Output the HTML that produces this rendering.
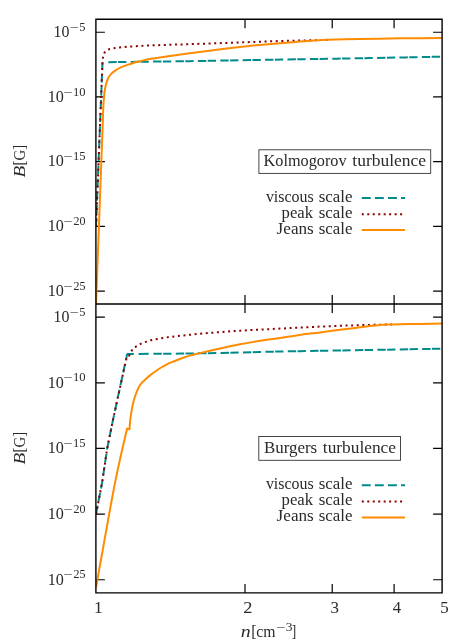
<!DOCTYPE html>
<html lang="en"><head><meta charset="utf-8"><title>B[G] vs n[cm^-3]: Kolmogorov and Burgers turbulence</title>
<style>html,body{margin:0;padding:0;background:#fff}body{width:471px;height:641px;overflow:hidden;font-family:"Liberation Serif",serif}</style></head>
<body>
<svg width="471" height="641" viewBox="0 0 471 641" style="display:block;will-change:transform;font-family:'Liberation Serif',serif">
<rect width="471" height="641" fill="#fff"/>
<defs><clipPath id="c1"><rect x="95.9" y="19.3" width="346.2" height="284.7"/></clipPath>
<clipPath id="c2"><rect x="95.9" y="304.0" width="346.2" height="288.9"/></clipPath></defs>
<g stroke="#000" stroke-width="1.2" fill="none">
<path d="M95.9,32.24h9M442.1,32.24h-9"/>
<path d="M95.9,96.95h9M442.1,96.95h-9"/>
<path d="M95.9,161.65h9M442.1,161.65h-9"/>
<path d="M95.9,226.35h9M442.1,226.35h-9"/>
<path d="M95.9,291.06h9M442.1,291.06h-9"/>
<path d="M95.9,317.13h9M442.1,317.13h-9"/>
<path d="M95.9,382.79h9M442.1,382.79h-9"/>
<path d="M95.9,448.45h9M442.1,448.45h-9"/>
<path d="M95.9,514.11h9M442.1,514.11h-9"/>
<path d="M95.9,579.77h9M442.1,579.77h-9"/>
<path d="M245,19.3v9M245,295v18M245,592.9v-9"/>
<path d="M332.22,19.3v9M332.22,295v18M332.22,592.9v-9"/>
<path d="M394.1,19.3v9M394.1,295v18M394.1,592.9v-9"/>
</g>
<g clip-path="url(#c1)" fill="none" stroke-width="2" stroke-linejoin="round"><g transform="translate(0,0.35)">
<path d="M96,226.4L102.5,61.9" stroke="#008b8b" stroke-dasharray="8.75 4.37"/>
<path d="M108.3,61.85C118.87,61.69 129.43,61.54 140,61.4C156.67,61.18 173.33,61.04 190,60.8C206.67,60.56 223.33,60.19 240,59.9C260,59.55 280,59.24 300,58.9C323.33,58.51 346.67,58.12 370,57.7C394.03,57.26 418.07,56.79 442.1,56.3" stroke="#008b8b" stroke-dasharray="8.4 1.4 8.3 4.3"/>
<path d="M96,226.4L102.45,63C102.53,61.64 102.62,60.31 102.7,59.5C102.87,57.88 103.03,56.76 103.2,56C103.47,54.78 103.73,53.99 104,53.4C104.43,52.44 104.87,51.77 105.3,51.3C105.93,50.61 106.57,50.14 107.2,49.8C108.13,49.3 109.07,48.94 110,48.7C111.83,48.23 113.67,47.97 115.5,47.7C116.8,47.51 118.1,47.35 119.4,47.2C121.23,46.98 123.07,46.77 124.9,46.6C126.6,46.45 128.3,46.31 130,46.2C131.7,46.09 133.4,46 135.1,45.9C139.27,45.66 143.43,45.38 147.6,45.2C161.73,44.58 175.87,44.27 190,43.8C206.67,43.24 223.33,42.68 240,42.1C253.33,41.64 266.67,41.07 280,40.7C290.67,40.4 301.33,40.21 312,39.95C315.33,39.87 318.67,39.8 322,39.7C324.67,39.62 327.33,39.51 330,39.4" stroke="#8b0000" stroke-dasharray="2 3.6"/>
<path d="M96,304L102.7,124.9C102.83,119.85 102.97,115.06 103.1,111.8C103.33,106.1 103.57,101.55 103.8,98.7C104.13,94.62 104.47,91.96 104.8,89.9C105.27,87.01 105.73,85.04 106.2,83.4C106.93,80.83 107.67,78.77 108.4,77.4C109.47,75.41 110.53,74.05 111.6,73C113.07,71.55 114.53,70.61 116,69.7C117.83,68.56 119.67,67.62 121.5,66.8C123.5,65.91 125.5,65.2 127.5,64.5C129.67,63.74 131.83,63.01 134,62.4C136.57,61.68 139.13,61.12 141.7,60.5C143.8,59.99 145.9,59.41 148,59C155.33,57.57 162.67,56.66 170,55.6C176.67,54.64 183.33,53.79 190,52.9C198.33,51.79 206.67,50.65 215,49.6C223.33,48.55 231.67,47.51 240,46.6C246.67,45.88 253.33,45.21 260,44.6C266.67,43.99 273.33,43.47 280,42.9C286.67,42.33 293.33,41.73 300,41.2C304,40.88 308,40.57 312,40.3C315.33,40.08 318.67,39.85 322,39.7C326.33,39.51 330.67,39.38 335,39.25C343.33,39 351.67,38.76 360,38.6C373.33,38.34 386.67,38.16 400,38C414.03,37.84 428.07,37.69 442.1,37.6" stroke="#ff8c00"/>
</g></g>
<g clip-path="url(#c2)" fill="none" stroke-width="2" stroke-linejoin="round"><g transform="translate(0,0)">
<path d="M96,514.2L102.1,482.6L107.2,448.4L112.75,421.1L117.7,398L126.7,356.2L127,354" stroke="#008b8b" stroke-dasharray="8.75 4.37"/>
<path d="M126.9,353.95L153.4,353.85" stroke="#008b8b" stroke-dasharray="6.9 4.8 10.1 100"/>
<path d="M153.4,353.85C155.6,353.83 157.8,353.82 160,353.8C173.33,353.68 186.67,353.51 200,353.3C213.33,353.09 226.67,352.8 240,352.5C253.33,352.2 266.67,351.77 280,351.5C293.33,351.23 306.67,351.03 320,350.8C360.7,350.09 401.4,349.39 442.1,348.7" stroke="#008b8b" stroke-dasharray="8.4 1.4 8.3 4.3"/>
<path d="M96,514.2L102.1,482.6L107.2,448.4L112.75,421.1L117.7,398L126.9,356.5L127.4,355.9L129.3,355.5C129.6,354.63 129.9,353.82 130.2,353.2C130.67,352.23 131.13,351.41 131.6,350.8C132.77,349.27 133.93,348.21 135.1,347.3C136.93,345.87 138.77,344.77 140.6,343.9C142.6,342.95 144.6,342.27 146.6,341.6C148.37,341 150.13,340.43 151.9,340C153.73,339.56 155.57,339.24 157.4,338.9C159.33,338.54 161.27,338.2 163.2,337.9C165.33,337.57 167.47,337.27 169.6,337C179.73,335.74 189.87,334.71 200,333.8C213.33,332.6 226.67,331.53 240,330.7C253.33,329.87 266.67,329.28 280,328.6C293.33,327.92 306.67,327.19 320,326.6C326.67,326.31 333.33,326.03 340,325.8C351.67,325.41 363.33,325.05 375,324.8C378.67,324.72 382.33,324.69 386,324.6C388,324.55 390,324.48 392,324.4" stroke="#8b0000" stroke-dasharray="2 3.6"/>
<path d="M96,587.5C99.43,568.03 102.87,548.88 106.3,530C109.07,514.79 111.83,498.94 114.6,485C116.63,474.75 118.67,465.22 120.7,456.1C121.97,450.42 123.23,445.27 124.5,439.8C125.37,436.06 126.23,432.29 127.1,428.5L129.4,429.4C129.47,428.92 129.53,428.37 129.6,427.7C129.77,426.03 129.93,422.7 130.1,421.1C130.4,418.22 130.7,416.57 131,414.6C131.37,412.19 131.73,409.93 132.1,408C132.57,405.54 133.03,403.29 133.5,401.5C134.07,399.33 134.63,397.67 135.2,396C135.87,394.03 136.53,392.14 137.2,390.6C138.1,388.52 139,386.49 139.9,385.2C141.7,382.62 143.5,381.21 145.3,379.5C147.07,377.82 148.83,376.31 150.6,374.9C152.37,373.49 154.13,372.23 155.9,371C157.67,369.77 159.43,368.56 161.2,367.5C162.97,366.44 164.73,365.48 166.5,364.6C168.27,363.72 170.03,362.96 171.8,362.2C173.6,361.43 175.4,360.71 177.2,360C178.97,359.31 180.73,358.61 182.5,358C185,357.13 187.5,356.31 190,355.6C193.33,354.66 196.67,353.9 200,353.1C206.67,351.5 213.33,349.96 220,348.5C226.67,347.04 233.33,345.57 240,344.3C246.67,343.03 253.33,341.86 260,340.8C266.67,339.74 273.33,338.88 280,337.9C286.67,336.92 293.33,335.81 300,334.9C306.67,333.99 313.33,333.25 320,332.4C326.67,331.55 333.33,330.65 340,329.8C346.67,328.95 353.33,328.09 360,327.3C365,326.71 370,326.1 375,325.6C378.67,325.23 382.33,324.76 386,324.6C390.67,324.39 395.33,324.29 400,324.2C406.67,324.07 413.33,324 420,323.9C427.37,323.79 434.73,323.69 442.1,323.6" stroke="#ff8c00"/>
</g></g>
<path d="M95.9,19.3H442.1V592.9H95.9ZM95.9,304.0H442.1" stroke="#000" stroke-width="1.4" fill="none" stroke-linejoin="miter"/>
<rect x="258.9" y="149.8" width="171.8" height="23.6" fill="#fff" stroke="#333" stroke-width="0.9"/>
<rect x="258.8" y="436.5" width="141.7" height="23.8" fill="#fff" stroke="#333" stroke-width="0.9"/>
<g fill="#2a2a2a" font-size="16">
<text x="53.6" y="37.04" textLength="15.9" lengthAdjust="spacingAndGlyphs">10</text>
<text x="69.48" y="30.94" font-size="11.5" textLength="9.33" lengthAdjust="spacingAndGlyphs">−</text>
<text x="79.18" y="30.94" font-size="11.5" textLength="6.21" lengthAdjust="spacingAndGlyphs">5</text>
<text x="47.78" y="101.75" textLength="16.13" lengthAdjust="spacingAndGlyphs">10</text>
<text x="63.6" y="95.65" font-size="11.5" textLength="9.09" lengthAdjust="spacingAndGlyphs">−</text>
<text x="72.99" y="95.65" font-size="11.5" textLength="12.59" lengthAdjust="spacingAndGlyphs">10</text>
<text x="47.78" y="166.45" textLength="16.13" lengthAdjust="spacingAndGlyphs">10</text>
<text x="63.6" y="160.35" font-size="11.5" textLength="9.09" lengthAdjust="spacingAndGlyphs">−</text>
<text x="72.99" y="160.35" font-size="11.5" textLength="12.6" lengthAdjust="spacingAndGlyphs">15</text>
<text x="47.78" y="231.15" textLength="16.13" lengthAdjust="spacingAndGlyphs">10</text>
<text x="63.6" y="225.05" font-size="11.5" textLength="9.09" lengthAdjust="spacingAndGlyphs">−</text>
<text x="73.57" y="225.05" font-size="11.5" textLength="11.98" lengthAdjust="spacingAndGlyphs">20</text>
<text x="47.78" y="295.86" textLength="16.13" lengthAdjust="spacingAndGlyphs">10</text>
<text x="63.6" y="289.76" font-size="11.5" textLength="9.09" lengthAdjust="spacingAndGlyphs">−</text>
<text x="73.57" y="289.76" font-size="11.5" textLength="12" lengthAdjust="spacingAndGlyphs">25</text>
<text x="53.6" y="321.93" textLength="15.9" lengthAdjust="spacingAndGlyphs">10</text>
<text x="69.48" y="315.83" font-size="11.5" textLength="9.33" lengthAdjust="spacingAndGlyphs">−</text>
<text x="79.18" y="315.83" font-size="11.5" textLength="6.21" lengthAdjust="spacingAndGlyphs">5</text>
<text x="47.78" y="387.59" textLength="16.13" lengthAdjust="spacingAndGlyphs">10</text>
<text x="63.6" y="381.49" font-size="11.5" textLength="9.09" lengthAdjust="spacingAndGlyphs">−</text>
<text x="72.99" y="381.49" font-size="11.5" textLength="12.59" lengthAdjust="spacingAndGlyphs">10</text>
<text x="47.78" y="453.25" textLength="16.13" lengthAdjust="spacingAndGlyphs">10</text>
<text x="63.6" y="447.15" font-size="11.5" textLength="9.09" lengthAdjust="spacingAndGlyphs">−</text>
<text x="72.99" y="447.15" font-size="11.5" textLength="12.6" lengthAdjust="spacingAndGlyphs">15</text>
<text x="47.78" y="518.91" textLength="16.13" lengthAdjust="spacingAndGlyphs">10</text>
<text x="63.6" y="512.81" font-size="11.5" textLength="9.09" lengthAdjust="spacingAndGlyphs">−</text>
<text x="73.57" y="512.81" font-size="11.5" textLength="11.98" lengthAdjust="spacingAndGlyphs">20</text>
<text x="47.78" y="584.57" textLength="16.13" lengthAdjust="spacingAndGlyphs">10</text>
<text x="63.6" y="578.47" font-size="11.5" textLength="9.09" lengthAdjust="spacingAndGlyphs">−</text>
<text x="73.57" y="578.47" font-size="11.5" textLength="12" lengthAdjust="spacingAndGlyphs">25</text>
<text x="94.08" y="612.8" textLength="8.66" lengthAdjust="spacingAndGlyphs">1</text>
<text x="243.19" y="612.8" textLength="9.23" lengthAdjust="spacingAndGlyphs">2</text>
<text x="330.59" y="612.8" textLength="8.47" lengthAdjust="spacingAndGlyphs">3</text>
<text x="392.68" y="612.8" textLength="8.28" lengthAdjust="spacingAndGlyphs">4</text>
<text x="440.32" y="612.8" textLength="8.44" lengthAdjust="spacingAndGlyphs">5</text>
<text x="263.53" y="165.5" textLength="83.07" lengthAdjust="spacingAndGlyphs">Kolmogorov</text>
<text x="352.33" y="165.5" textLength="73.68" lengthAdjust="spacingAndGlyphs">turbulence</text>
<text x="263.91" y="452.5" textLength="53.3" lengthAdjust="spacingAndGlyphs">Burgers</text>
<text x="322.83" y="452.5" textLength="73.17" lengthAdjust="spacingAndGlyphs">turbulence</text>
<text x="265.9" y="202" textLength="47.78" lengthAdjust="spacingAndGlyphs">viscous</text>
<text x="318.71" y="202" textLength="33.78" lengthAdjust="spacingAndGlyphs">scale</text>
<text x="281.63" y="217.9" textLength="31.47" lengthAdjust="spacingAndGlyphs">peak</text>
<text x="318.71" y="217.9" textLength="33.78" lengthAdjust="spacingAndGlyphs">scale</text>
<text x="276.64" y="233.8" textLength="37.08" lengthAdjust="spacingAndGlyphs">Jeans</text>
<text x="318.71" y="233.8" textLength="33.78" lengthAdjust="spacingAndGlyphs">scale</text>
<text x="265.9" y="489" textLength="47.78" lengthAdjust="spacingAndGlyphs">viscous</text>
<text x="318.71" y="489" textLength="33.78" lengthAdjust="spacingAndGlyphs">scale</text>
<text x="281.63" y="504.9" textLength="31.47" lengthAdjust="spacingAndGlyphs">peak</text>
<text x="318.71" y="504.9" textLength="33.78" lengthAdjust="spacingAndGlyphs">scale</text>
<text x="276.64" y="520.8" textLength="37.08" lengthAdjust="spacingAndGlyphs">Jeans</text>
<text x="318.71" y="520.8" textLength="33.78" lengthAdjust="spacingAndGlyphs">scale</text>
<text x="240.79" y="636.8" font-style="italic" textLength="9.93" lengthAdjust="spacingAndGlyphs">n</text>
<text x="251.13" y="636.8" textLength="24.41" lengthAdjust="spacingAndGlyphs">[cm</text>
<text x="276.29" y="630.5" font-size="11.5" textLength="9.21" lengthAdjust="spacingAndGlyphs">−</text>
<text x="285.65" y="630.5" font-size="11.5" textLength="6.78" lengthAdjust="spacingAndGlyphs">3</text>
<text x="291.81" y="636.8" textLength="4.49" lengthAdjust="spacingAndGlyphs">]</text>
<g transform="translate(24.8,177.4) rotate(-90)"><text x="-0.18" y="0" font-style="italic" textLength="11.8" lengthAdjust="spacingAndGlyphs">B</text><text x="11.99" y="0" textLength="20.71" lengthAdjust="spacingAndGlyphs">[G]</text></g>
<g transform="translate(24.8,464.4) rotate(-90)"><text x="-0.18" y="0" font-style="italic" textLength="11.8" lengthAdjust="spacingAndGlyphs">B</text><text x="11.99" y="0" textLength="20.71" lengthAdjust="spacingAndGlyphs">[G]</text></g>
</g>
<path d="M361.8,198H405" stroke="#008b8b" stroke-width="2" stroke-dasharray="8.9 4.2"/>
<path d="M361.8,214.2H405" stroke="#8b0000" stroke-width="2" stroke-dasharray="2 3.47"/>
<path d="M361.8,230.1H405" stroke="#ff8c00" stroke-width="2"/>
<path d="M361.8,485.3H405" stroke="#008b8b" stroke-width="2" stroke-dasharray="8.9 4.2"/>
<path d="M361.8,501.5H405" stroke="#8b0000" stroke-width="2" stroke-dasharray="2 3.47"/>
<path d="M361.8,517.4H405" stroke="#ff8c00" stroke-width="2"/>
</svg>
</body></html>
